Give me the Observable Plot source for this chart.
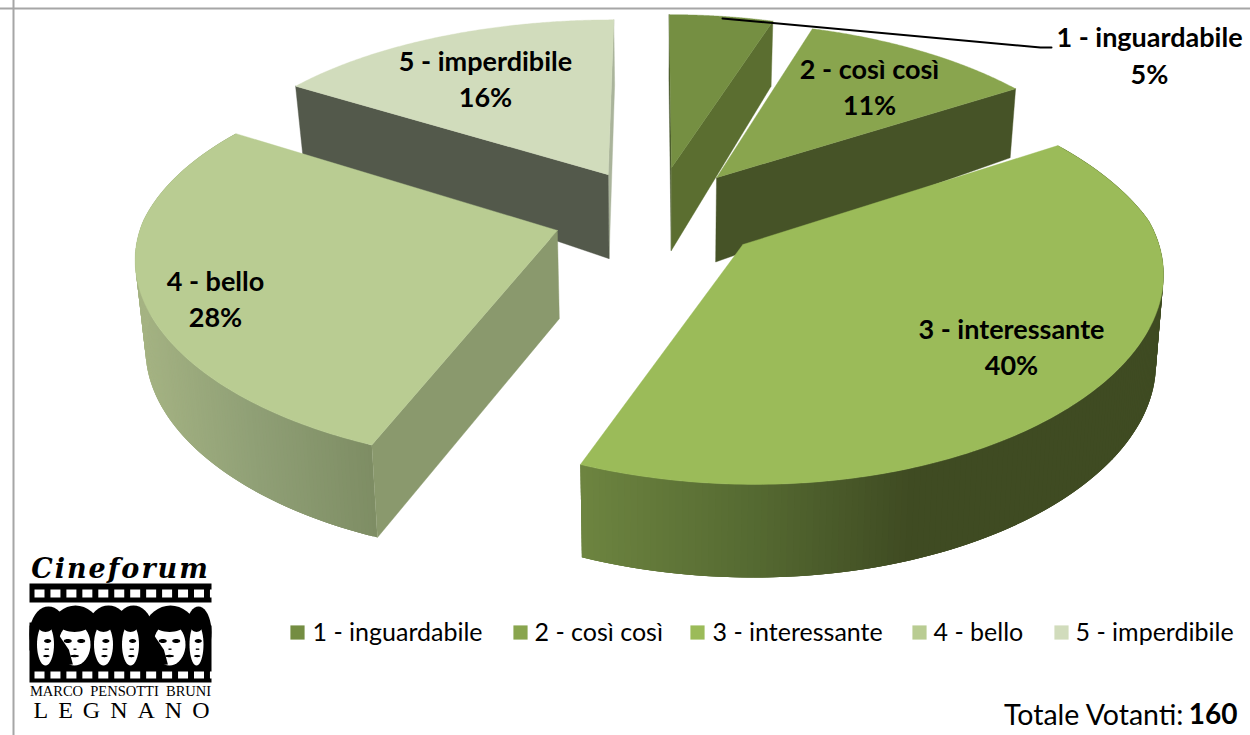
<!DOCTYPE html>
<html><head><meta charset="utf-8">
<script src="https://cdn.jsdelivr.net/npm/d3@7"></script>
<script src="https://cdn.jsdelivr.net/npm/@observablehq/plot@0.6"></script>
<style>html,body{margin:0;padding:0;background:#fff;overflow:hidden}svg{display:block}</style>
</head><body><div id="chart"></div>
<script>
// ---- data ----
const categories = ["1 - inguardabile","2 - così così","3 - interessante","4 - bello","5 - imperdibile"];
const shares = [5,11,40,28,16];
const totalVoters = 160;
const topColors  = ["#758f42","#89a54e","#9bbb59","#b9cc92","#d1dcbc"];
const faceColors = ["#5b6e30","#465327","#465327","#8a996d","#53594b"];
const legendColors = ["#748d42","#89a54e","#9bbb59","#b9cc92","#d1dcbc"];

// ---- layout of the drawing ----
const cx = 655, cy = 220, AR = 410, AL = 415, B = 193, kY = 0.16;
const explode = [[.041,.286],[.155,.23],[.21,-.122],[-.235,-.051],[-.118,.247]];
const depth = d3.scaleLinear().domain([-1.1,0,.25,.76,1.24]).range([93,88,84,69,65]);
const labelPos = [[1149,38,75],[869,70,106],[1011,330,366],[215,282,318],[485,62,98]];
const legendSquareX = [297,520,697,919,1061];
const legendTextX = [312,534,712,933,1075];
const rimScale = [
  null, null,
  d3.scaleLinear().domain([583,750,914,1170]).range(["#6d8440","#566b32","#3f4b22","#3f4b22"]),
  d3.scaleLinear().domain([135,250,380]).range(["#a5b383","#90a076","#7d8c63"]),
  null
];
const rad = d => d*Math.PI/180;
function planeTop(u,v){
  const kx = v<=0 ? .12 : (u<0 ? .14 : .18);
  const wx = 1/(1+kx*v), wy = 1/(1+kY*v);
  return [cx+(u<0?AL:AR)*u*wx, cy-B*v*wy];
}
function pt(i,theta,r,bottom=false){
  const u = explode[i][0]+r*Math.sin(rad(theta)), v = explode[i][1]+r*Math.cos(rad(theta));
  const [x,y] = planeTop(u,v);
  return bottom ? [cx+(x-cx)*(x<cx?.98:.985), y+depth(v)] : [x,y];
}
const polys = [];
let pid = 0;
function addPoly(points,color,sw=.4){
  const id = pid++;
  [...points,points[0]].forEach(p=>polys.push({id,x:p[0],y:p[1],color,sw}));
}
const STEPS = 180;
function drawSlice(i,t0,t1){
  const apT = pt(i,0,0), apB = pt(i,0,0,true);
  const th = d3.range(0,STEPS+1).map(j=>t0+(t1-t0)*j/STEPS);
  if(rimScale[i]) for(let j=0;j<STEPS;j++){
    const k = Math.min(j+3,STEPS), a = pt(i,th[j],1), b = pt(i,th[k],1);
    addPoly([a,b,pt(i,th[k],1,true),pt(i,th[j],1,true)],rimScale[i](a[0]),0);
  }
  if(i===0){ addPoly([pt(i,t0,1),apT,apB,pt(i,t0,1,true)],"#46562a"); addPoly([pt(i,t1,1),apT,apB,pt(i,t1,1,true)],faceColors[i]); }
  if(i===1) addPoly([pt(i,t1,1),apT,apB,pt(i,t1,1,true)],faceColors[i]);
  if(i===3) addPoly([pt(i,t0,1),apT,apB,pt(i,t0,1,true)],faceColors[i]);
  if(i===4){ addPoly([pt(i,t1,1),apT,apB,pt(i,t1,1,true)],"#aab49b"); addPoly([pt(i,t0,1),apT,apB,pt(i,t0,1,true)],faceColors[i]); }
  addPoly([apT,...th.map(t=>pt(i,t,1))],topColors[i]);
}
const cum = d3.cumsum(shares);
const start = i => (i?cum[i-1]:0)*3.6, end = i => cum[i]*3.6;
[4,0,1,3,2].forEach(i=>drawSlice(i,start(i),end(i)));

// ---- logo ----
const logoPolys = [];
let lid = 0;
function lp(points,color){const id=lid++;[...points,points[0]].forEach(p=>logoPolys.push({id,x:p[0],y:p[1],color}));}
function ell(x,y,rx,ry,color,a0=0,a1=360){lp(d3.range(0,41).map(j=>{const t=rad(a0+(a1-a0)*j/40);return [x+rx*Math.cos(t),y+ry*Math.sin(t)];}),color);}
function rect(x0,y0,x1,y1,c){lp([[x0,y0],[x1,y0],[x1,y1],[x0,y1]],c);}
rect(29,583,211,602,"#000");
rect(29,625,211,682,"#000");
[[48,634,19,28],[75,636,27,31],[108,632,22,27],[133,632,20,27],[170,636,28,31],[198,632,13,26]].forEach(h=>ell(...h,"#000"));
rect(29,622,36,650,"#000");
for(let j=0;j<12;j++){
  const x=34+j*15.95; rect(x,589,x+10,597,"#fff"); rect(x,671,x+10,678,"#fff");
}
const largeFaces=[[74,644,16,21],[169,644,16,21]];
const sideFaces=[[45,644,8.5,21],[103,644,9.5,21],[130,644,8.5,21],[196,644,7,21]];
largeFaces.forEach(([x,y,rx,ry])=>{
  ell(x,y,rx,ry,"#fff");
  lp([[x-rx-1,y-ry*.55],[x-rx*.35,y+ry*.25],[x-rx*.1,y+ry*.95],[x-rx-1,y+ry]],"#000");
  ell(x,y-ry*1.02,rx*1.02,ry*.42,"#000");
  ell(x-rx*.42,y-3.5,4,2,"#000");
  ell(x+rx*.42,y-3.5,4,2,"#000");
  rect(x-1,y+4,x+2,y+5.4,"#000");
  ell(x,y+ry*.55,4.5,1.2,"#000");
});
sideFaces.forEach(([x,y,rx,ry])=>{
  ell(x,y,rx,ry,"#fff");
  ell(x,y-ry*1.02,rx*1.02,ry*.42,"#000");
  ell(x+rx*.25,y-3.5,3.6,1.9,"#000");
  rect(x-rx*.1,y+4,x+rx*.4,y+5.4,"#000");
  ell(x+rx*.1,y+ry*.55,3.2,1.1,"#000");
});

// ---- tables for marks ----
const labelRows = categories.flatMap((c,i)=>[
  {t:c,x:labelPos[i][0],y:labelPos[i][1]},
  {t:shares[i]+"%",x:labelPos[i][0],y:labelPos[i][2]}
]);
const legendRows = categories.map((c,i)=>({c,col:legendColors[i],sx:legendSquareX[i],tx:legendTextX[i]}));
const leader = [[722,18],[1040,47],[1051,47]].map(([x,y])=>({x,y}));
const uiFont = "Lato, 'Open Sans', sans-serif";
const serif = "'Liberation Serif',serif";

const plot = Plot.plot({
  width:1250,height:735,margin:0,
  x:{domain:[0,1250],range:[0,1250],axis:null},
  y:{domain:[0,735],range:[0,735],axis:null},
  color:{type:"identity"},
  style:{background:"#fff"},
  marks:[
    Plot.ruleY([8],{stroke:"#a6a6a6",strokeWidth:2}),
    Plot.ruleX([13],{stroke:"#a6a6a6",strokeWidth:2}),
    Plot.line(polys,{x:"x",y:"y",z:"id",fill:"color",stroke:"color",strokeWidth:"sw",curve:"linear"}),
    Plot.line(leader,{x:"x",y:"y",stroke:"#000",strokeWidth:2}),
    Plot.text(labelRows,{x:"x",y:"y",text:"t",fontFamily:uiFont,fontWeight:"bold",fontSize:27,fill:"#000"}),
    Plot.dot(legendRows,{x:"sx",y:()=>632,symbol:"square",r:8,fill:"col"}),
    Plot.text(legendRows,{x:"tx",y:()=>632,text:"c",textAnchor:"start",fontFamily:uiFont,fontSize:25,fill:"#000"}),
    Plot.text(["Totale Votanti:"],{x:()=>1183,y:()=>715,text:d=>d,textAnchor:"end",fontFamily:uiFont,fontSize:28.5,fill:"#000"}),
    Plot.text([String(totalVoters)],{x:()=>1237,y:()=>715,text:d=>d,textAnchor:"end",fontFamily:uiFont,fontSize:28,fontWeight:"bold",fill:"#000"}),
    Plot.line(logoPolys,{x:"x",y:"y",z:"id",fill:"color",stroke:"none"}),
    Plot.text(["Cineforum"],{x:()=>120,y:()=>577,text:d=>d,fontFamily:"'DejaVu Serif',serif",fontStyle:"italic",fontWeight:"bold",fontSize:27,fill:"#000",lineAnchor:"bottom"}),
    Plot.text(["MARCO\u2002PENSOTTI\u2002BRUNI"],{x:()=>120,y:()=>695,text:d=>d,fontFamily:serif,fontSize:14.5,fill:"#000",lineAnchor:"bottom"}),
    Plot.text(["LEGNANO"],{x:()=>126,y:()=>717,text:d=>d,fontFamily:serif,fontSize:24,fill:"#000",lineAnchor:"bottom"})
  ]
});
document.getElementById("chart").append(plot);
const tx = t => d3.select(plot).selectAll("text").filter(function(){return this.textContent===t;});
tx("Cineforum").style("letter-spacing","2px");
tx("LEGNANO").style("letter-spacing","10px");
</script>
</body></html>
